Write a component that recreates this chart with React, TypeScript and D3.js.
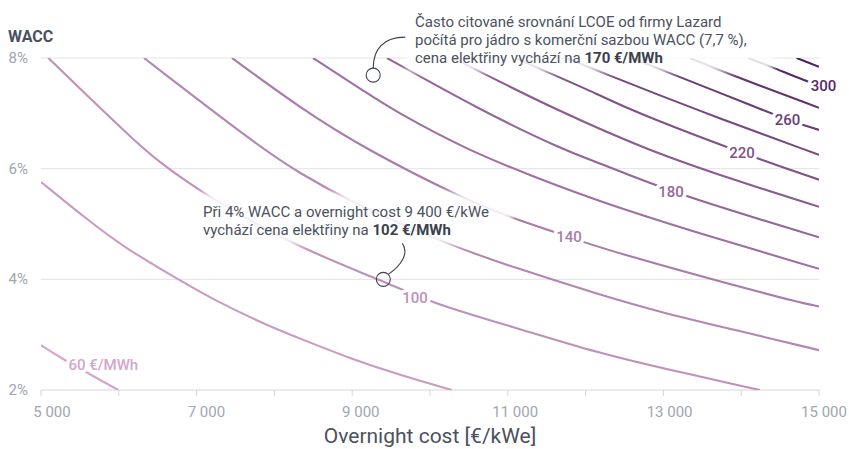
import React from "react";
import * as d3 from "d3";

// ---------- data ----------
const levels = [60, 80, 100, 120, 140, 160, 180, 200, 220, 240, 260, 280, 300, 320];

// each contour: [overnight cost €/kWe, WACC %]
const line60: [number, number][] = [[5000, 2.81], [5266, 2.57], [5608, 2.30], [5994, 2.0]];
const line80: [number, number][] = [[5000, 5.76], [5630, 5.04], [6058, 4.59], [6700, 4.05], [7215, 3.63], [7901, 3.17], [8329, 2.93], [8972, 2.57], [9614, 2.27], [10279, 2.0]];
const line100: [number, number][] = [[5094, 8.0], [6315, 6.34], [6640, 6.0], [7215, 5.43], [8329, 4.56], [9400, 3.97], [10022, 3.57], [11070, 3.14], [12185, 2.66], [12998, 2.39], [14241, 2.0]];
const line120: [number, number][] = [[6324, 8.0], [7857, 6.34], [8329, 5.92], [8929, 5.43], [10300, 4.59], [11070, 4.22], [12185, 3.72], [12998, 3.39], [14027, 3.05], [15000, 2.72]];
const line140: [number, number][] = [[7455, 8.0], [8329, 7.1], [9186, 6.34], [10472, 5.43], [11070, 5.1], [11786, 4.77], [12185, 4.56], [14584, 3.63], [15000, 3.51]];
const line160: [number, number][] = [[8496, 8.0], [9229, 7.33], [9524, 7.06], [10472, 6.34], [11324, 5.86], [12185, 5.4], [13600, 4.77], [15000, 4.19]];
const line180: [number, number][] = [[9447, 8.0], [10643, 7.06], [11713, 6.34], [12185, 6.1], [13097, 5.57], [15000, 4.76]];
const line200: [number, number][] = [[10296, 8.0], [10643, 7.75], [11628, 7.06], [12785, 6.34], [13898, 5.8], [15000, 5.31]];
const line220: [number, number][] = [[11100, 8.0], [11500, 7.75], [12185, 7.33], [12570, 7.06], [14010, 6.28], [15000, 5.8]];
const line240: [number, number][] = [[11757, 8.0], [12185, 7.75], [13428, 7.06], [15000, 6.25]];
const line260: [number, number][] = [[12596, 8.0], [13042, 7.75], [14280, 7.06], [14595, 6.88], [15000, 6.7]];
const line280: [number, number][] = [[13341, 8.0], [13766, 7.75], [15000, 7.1]];
const line300: [number, number][] = [[14087, 8.0], [14391, 7.84], [14845, 7.57], [15058, 7.49]];
const line320: [number, number][] = [[14713, 8.0], [15000, 7.84]];
const contourLines = [line60, line80, line100, line120, line140, line160, line180, line200, line220, line240, line260, line280, line300, line320];

// contour labels
const labelLevels = [60, 100, 140, 180, 220, 260, 300];
const labelTexts = ["60 €/MWh", "100", "140", "180", "220", "260", "300"];
const labelCosts = [5801, 9807, 11786, 13097, 14010, 14595, 15058];
const labelWaccs = [2.45, 3.66, 4.77, 5.57, 6.28, 6.88, 7.49];

// axes
const xTicks = [5000, 6000, 7000, 8000, 9000, 10000, 11000, 12000, 13000, 14000, 15000];
const xTickLabels = [5000, 7000, 9000, 11000, 13000, 15000];
const yTicks = [2, 4, 6, 8];

// annotations
const lazardPoint = { cost: 9270, wacc: 7.69 };
const examplePoint = { cost: 9400, wacc: 4.0 };
const lazardLines = ["Často citované srovnání LCOE od firmy Lazard", "počítá pro jádro s komerční sazbou WACC (7,7 %),", "cena elektřiny vychází na "];
const lazardBold = "170 €/MWh";
const exampleLines = ["Při 4% WACC a overnight cost 9 400 €/kWe", "vychází cena elektřiny na "];
const exampleBold = "102 €/MWh";

export default function App() {
  const W = 849;
  const H = 449;
  const left = 41, right = 819, top = 58, bottom = 390;
  const x = d3.scaleLinear().domain([5000, 15000]).range([left, right]);
  const xLab = d3.scaleLinear().domain([5000, 15000]).range([52, 824]);
  const y = d3.scaleLinear().domain([2, 8]).range([bottom, top]);
  const color = d3.scaleLinear<string>().domain([60, 320]).range(["#d3a5cc", "#4c1e5e"]).interpolate(d3.interpolateRgb);
  const lineGen = d3.line<[number, number]>().x(d => x(d[0])).y(d => y(d[1])).curve(d3.curveBasis);
  const fmt = d3.formatLocale({ decimal: ",", thousands: "\u00a0", grouping: [3], currency: ["", ""] }).format(",");
  const font = "Roboto, 'Noto Sans', sans-serif";
  const textCol = "#4a5160";
  const tickCol = "#9ea6b0";

  const lx = x(lazardPoint.cost), ly = y(lazardPoint.wacc);
  const ex = x(examplePoint.cost), ey = y(examplePoint.wacc);

  return (
    <svg width={W} height={H} style={{ position: "absolute", left: 0, top: 0, background: "#fff" }} fontFamily={font}>
      <defs>
        <clipPath id="plot">
          <rect x={left} y={top} width={right - left} height={bottom - top} />
        </clipPath>
        <filter id="soft" x="-20%" y="-50%" width="140%" height="200%">
          <feGaussianBlur stdDeviation="3" />
        </filter>
      </defs>

      {/* grid */}
      {yTicks.filter(t => t !== 2).map(t => (
        <line key={t} x1={left} x2={right} y1={y(t)} y2={y(t)} stroke="#e1e3e6" strokeWidth={1} />
      ))}
      <line x1={left} x2={right} y1={y(2)} y2={y(2)} stroke="#d3d6da" strokeWidth={1} />
      {xTicks.map(t => (
        <line key={t} x1={x(t)} x2={x(t)} y1={bottom} y2={bottom + 6} stroke="#d3d6da" strokeWidth={1} />
      ))}

      {/* contours */}
      <g clipPath="url(#plot)">
        {contourLines.map((pts, i) => (
          <path key={levels[i]} d={lineGen(pts) || ""} fill="none" stroke={color(levels[i])} strokeWidth={2.1} />
        ))}
      </g>

      {/* contour labels */}
      {labelLevels.map((lv, i) => (
        <text key={lv} x={x(labelCosts[i])} y={y(labelWaccs[i])} textAnchor="middle" dominantBaseline="central"
          fontSize={15} fontWeight={500} fill={color(lv)} stroke="#fff" strokeWidth={7} strokeLinejoin="round"
          style={{ paintOrder: "stroke" }}>
          {labelTexts[i]}
        </text>
      ))}

      {/* soft boxes behind annotations */}
      <rect x={407} y={4} width={366} height={68} fill="#fff" opacity={0.85} filter="url(#soft)" />
      <rect x={198} y={193} width={314} height={52} fill="#fff" opacity={0.85} filter="url(#soft)" />

      {/* annotation texts */}
      <text x={415} y={27} fontSize={15} fill={textCol}>
        {lazardLines.map((s, i) => (
          <tspan key={i} x={415} dy={i === 0 ? 0 : 18.2}>
            {s}
            {i === 2 ? <tspan fontWeight={700} fill="#3b414c">{lazardBold}</tspan> : null}
          </tspan>
        ))}
      </text>
      <text x={203} y={217} fontSize={15} fill={textCol}>
        {exampleLines.map((s, i) => (
          <tspan key={i} x={203} dy={i === 0 ? 0 : 18.2}>
            {s}
            {i === 1 ? <tspan fontWeight={700} fill="#3b414c">{exampleBold}</tspan> : null}
          </tspan>
        ))}
      </text>

      {/* connectors */}
      <path d={`M${lx},${ly - 7} C${lx},${ly - 26} ${lx + 10},${ly - 38} ${lx + 32},${ly - 38}`} fill="none" stroke="#3b414c" strokeWidth={1.1} />
      <circle cx={lx} cy={ly} r={7} fill="none" stroke="#3b414c" strokeWidth={1.1} />
      <path d={`M${ex + 5},${ey - 5} C${ex + 18},${ey - 14} ${ex + 26},${ey - 26} ${ex + 19},${ey - 36}`} fill="none" stroke="#3b414c" strokeWidth={1.1} />
      <circle cx={ex} cy={ey} r={7} fill="none" stroke="#3b414c" strokeWidth={1.1} />

      {/* y tick labels */}
      {yTicks.map(t => (
        <text key={t} x={28} y={y(t)} textAnchor="end" dominantBaseline="central" fontSize={15} fill={tickCol}>
          {t}%
        </text>
      ))}
      <text x={8} y={42} fontSize={16} fontWeight={700} fill={textCol}>WACC</text>

      {/* x tick labels */}
      {xTickLabels.map(t => (
        <text key={t} x={xLab(t)} y={417} textAnchor="middle" fontSize={15} fill={tickCol}>
          {fmt(t)}
        </text>
      ))}
      <text x={(left + right) / 2} y={443} textAnchor="middle" fontSize={21} fill={textCol}>
        Overnight cost [€/kWe]
      </text>
    </svg>
  );
}
